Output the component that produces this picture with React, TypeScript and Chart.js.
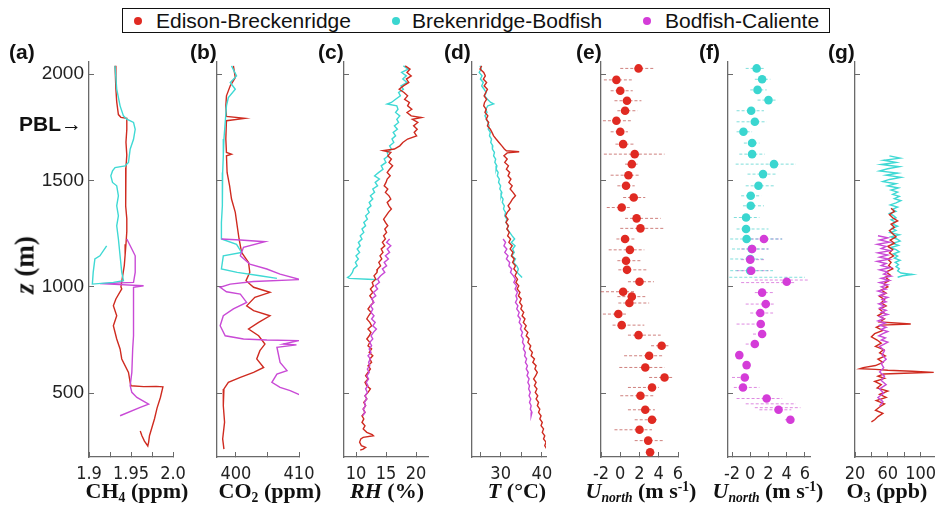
import React, { useEffect, useRef } from 'react';
import { Chart, registerables } from 'chart.js';

Chart.register(...registerables);

type P = [number, number]; // [altitude z (m), value]

// ---------------- Tick values and labels ----------------
const zTicks = [500, 1000, 1500, 2000];
const zLabels = ['500', '1000', '1500', '2000'];
const ch4Ticks = [1.9, 1.925, 1.95, 1.975, 2.0];
const ch4Labels = ['1.9', '', '1.95', '', '2.0'];
const co2Ticks = [400, 405, 410];
const co2Labels = ['400', '', '410'];
const rhTicks = [10, 15, 20];
const rhLabels = ['10', '15', '20'];
const tTicks = [25, 30, 35, 40];
const tLabels = ['', '30', '', '40'];
const uTicks = [-2, 0, 2, 4, 6];
const uLabels = ['-2', '0', '2', '4', '6'];
const o3Ticks = [20, 40, 60, 80, 100, 120];
const o3Labels = ['20', '', '60', '', '100', ''];

const seriesNames = ['Edison-Breckenridge', 'Brekenridge-Bodfish', 'Bodfish-Caliente'];

// ---------------- (a) CH4 ----------------
const ch4Edison: P[] = [[2040,1.931],[1990,1.932],[1930,1.932],[1870,1.933],[1810,1.935],[1797,1.938],[1792,1.945],[1740,1.945],[1680,1.944],[1620,1.945],[1560,1.944],[1500,1.943],[1440,1.944],[1380,1.944],[1320,1.945],[1260,1.945],[1200,1.944],[1150,1.943],[1100,1.942],[1050,1.940],[1000,1.938],[990,1.939],[943,1.932],[911,1.929],[864,1.933],[817,1.929],[755,1.933],[708,1.937],[661,1.939],[598,1.947],[551,1.949],[535,1.950],[531,1.965],[532,1.980],[530,1.988],[480,1.985],[430,1.981],[380,1.978],[340,1.975],[300,1.972],[270,1.971],[252,1.970],[275,1.966],[300,1.963],[322,1.961]];
const ch4Brek: P[] = [[2039,1.931],[1930,1.933],[1851,1.937],[1804,1.941],[1788,1.945],[1773,1.953],[1741,1.955],[1694,1.953],[1647,1.949],[1585,1.947],[1569,1.943],[1561,1.931],[1545,1.928],[1522,1.926],[1491,1.928],[1475,1.933],[1428,1.935],[1381,1.933],[1334,1.935],[1287,1.933],[1225,1.935],[1146,1.937],[1068,1.939],[1029,1.941],[1021,1.929],[1013,1.904],[1068,1.905],[1131,1.907],[1146,1.913],[1193,1.921]];
const ch4Bodfish: P[] = [[1225,1.945],[1178,1.951],[1146,1.955],[1068,1.955],[1021,1.953],[1015,1.913],[1005,1.965],[998,1.953],[911,1.953],[770,1.953],[708,1.952],[598,1.951],[535,1.949],[504,1.951],[480,1.957],[449,1.971],[433,1.961],[394,1.937]];

// ---------------- (b) CO2 ----------------
const co2Edison: P[] = [[2039,399.6],[1984,399.9],[1945,399.1],[1898,398.5],[1851,398.4],[1801,398.5],[1792,401.4],[1781,398.5],[1695,398.4],[1632,398.5],[1624,399.3],[1616,398.5],[1538,398.6],[1475,399.0],[1413,399.3],[1350,399.9],[1287,400.2],[1225,400.5],[1162,400.9],[1115,402.0],[1068,402.2],[1029,401.6],[998,402.8],[974,405.4],[951,403.0],[911,401.7],[888,402.8],[864,405.4],[833,403.6],[802,402.0],[770,403.6],[731,404.6],[700,403.8],[661,403.3],[621,404.4],[598,402.8],[574,400.7],[551,398.8],[520,398.1],[441,398.0],[364,398.2],[285,397.9],[237,398.1]];
const co2Brek: P[] = [[2039,399.3],[1992,400.1],[1961,399.1],[1929,399.9],[1890,398.8],[1851,398.5],[1773,398.3],[1695,398.1],[1616,398.0],[1538,397.9],[1460,397.9],[1381,397.8],[1303,397.7],[1225,397.7],[1200,400.1],[1162,400.9],[1146,398.0],[1084,397.7],[1068,400.2],[1052,403.8],[1040,406.5]];
const co2Bodfish: P[] = [[1225,397.7],[1220,400.7],[1212,404.6],[1186,401.2],[1146,400.7],[1107,402.2],[1084,404.9],[1060,407.0],[1034,410.2],[1025,402.8],[1013,399.1],[998,397.5],[977,398.5],[966,400.7],[927,401.7],[896,399.6],[864,398.0],[817,397.5],[770,398.3],[755,401.2],[750,404.9],[747,409.9],[731,407.5],[727,409.6],[716,406.5],[645,407.0],[606,408.1],[590,406.5],[551,405.7],[527,407.0],[512,408.6],[491,410.2]];

// ---------------- (c) RH ----------------
const rhEdison: P[] = [[2039,18.2],[2024,19.0],[2008,18.5],[1992,19.2],[1977,18.4],[1961,18.8],[1945,17.9],[1929,17.2],[1914,18.0],[1898,18.6],[1882,18.1],[1867,18.9],[1851,18.6],[1835,19.3],[1820,18.5],[1804,19.2],[1796,20.9],[1788,19.4],[1773,20.3],[1757,19.6],[1741,20.2],[1726,19.7],[1710,20.1],[1695,18.6],[1679,17.8],[1663,17.3],[1648,16.4],[1640,14.5],[1632,15.8],[1616,15.3],[1601,15.9],[1585,15.5],[1569,16.1],[1553,15.6],[1538,15.2],[1522,15.7],[1507,15.2],[1491,15.0],[1475,14.7],[1460,15.3],[1444,14.9],[1428,15.5],[1413,15.8],[1397,15.2],[1381,15.5],[1366,15.9],[1350,15.4],[1334,15.0],[1318,14.6],[1303,14.9],[1287,15.3],[1272,14.8],[1256,15.1],[1240,14.6],[1225,14.9],[1209,14.4],[1193,14.8],[1178,14.2],[1162,14.5],[1146,14.0],[1131,14.3],[1115,13.8],[1099,14.1],[1084,13.6],[1068,13.5],[1052,13.0],[1036,13.3],[1021,12.7],[1005,12.9],[990,12.4],[974,12.8],[958,12.3],[943,12.7],[927,12.9],[911,12.4],[896,12.0],[880,12.5],[864,12.1],[849,11.8],[833,12.3],[817,12.6],[802,12.0],[786,12.5],[770,12.2],[755,11.8],[739,12.3],[723,12.0],[708,12.6],[692,12.2],[676,12.8],[661,12.3],[645,12.6],[629,12.0],[614,12.4],[598,12.0],[582,11.6],[567,12.0],[551,11.5],[535,11.8],[520,12.4],[504,12.0],[488,11.5],[473,11.8],[457,11.3],[441,11.6],[425,11.2],[410,11.5],[394,11.0],[379,11.3],[363,11.0],[347,11.5],[332,11.2],[316,11.8],[305,12.7],[300,12.9],[292,11.2],[285,10.8],[270,10.6],[253,10.9],[245,11.6],[237,11.2],[232,10.7]];
const rhBrek: P[] = [[2039,17.9],[2024,18.7],[2008,17.6],[1992,18.4],[1977,17.8],[1961,18.5],[1945,17.5],[1929,17.9],[1914,17.1],[1898,17.4],[1882,16.6],[1867,15.9],[1860,15.2],[1851,16.8],[1835,17.0],[1820,16.6],[1804,17.3],[1788,16.8],[1773,17.1],[1757,16.4],[1741,16.9],[1726,16.2],[1710,16.6],[1695,16.0],[1679,16.3],[1663,15.6],[1648,15.9],[1632,15.2],[1616,15.4],[1601,14.7],[1585,15.0],[1569,14.2],[1553,14.5],[1538,13.8],[1522,13.1],[1507,13.9],[1491,13.2],[1475,13.6],[1460,12.8],[1444,13.1],[1428,12.4],[1413,12.8],[1397,12.2],[1381,12.5],[1366,11.9],[1350,12.2],[1334,11.6],[1318,11.9],[1303,11.3],[1287,11.6],[1272,11.0],[1256,11.3],[1240,10.7],[1225,11.0],[1209,10.4],[1193,10.7],[1178,10.2],[1162,10.6],[1146,10.0],[1131,10.4],[1115,9.9],[1099,10.2],[1084,9.6],[1068,9.4],[1052,9.0],[1044,8.6],[1040,8.9],[1036,12.0],[1034,13.5]];
const rhBodfish: P[] = [[1225,15.6],[1209,15.1],[1193,15.8],[1178,15.2],[1162,15.6],[1146,14.9],[1131,15.4],[1115,14.7],[1099,15.1],[1084,14.4],[1068,14.8],[1052,14.1],[1036,13.6],[1021,13.9],[1005,13.2],[990,13.6],[974,12.9],[958,13.3],[943,12.6],[927,13.0],[911,12.4],[896,12.8],[880,12.5],[864,13.0],[849,12.6],[833,13.2],[817,12.8],[802,13.4],[786,12.9],[770,12.5],[755,12.8],[739,12.3],[723,12.6],[708,12.2],[692,12.5],[676,12.0],[661,12.4],[645,12.1],[629,12.3],[614,11.9],[598,12.2],[582,11.8],[567,12.1],[551,11.7],[535,12.0],[520,11.6],[504,11.9],[488,11.5],[473,11.8],[457,11.4],[441,11.6],[425,11.2],[410,11.5],[394,11.1]];

// ---------------- (d) T ----------------
const tEdison: P[] = [[2039,25.4],[2024,25.0],[2008,25.9],[1992,26.3],[1977,25.8],[1961,26.6],[1945,26.0],[1929,26.8],[1914,26.4],[1898,26.0],[1882,26.6],[1867,26.1],[1851,25.9],[1835,26.5],[1820,26.2],[1804,26.9],[1788,26.5],[1773,27.1],[1757,26.8],[1741,27.5],[1726,27.9],[1710,28.3],[1695,28.9],[1679,29.6],[1663,30.3],[1648,30.9],[1640,31.4],[1635,34.5],[1630,31.6],[1616,30.8],[1601,31.6],[1585,31.0],[1569,31.9],[1553,31.4],[1538,32.2],[1522,31.8],[1507,32.5],[1491,32.0],[1475,32.8],[1460,32.3],[1444,33.0],[1428,33.6],[1413,32.9],[1397,32.4],[1381,31.8],[1366,32.3],[1350,31.6],[1334,31.2],[1318,31.8],[1303,31.3],[1287,31.9],[1272,31.5],[1256,32.1],[1240,31.7],[1225,32.4],[1209,32.0],[1193,32.8],[1178,32.3],[1162,33.0],[1146,32.6],[1131,33.3],[1115,32.9],[1099,33.6],[1084,33.2],[1068,33.9],[1052,33.5],[1036,34.1],[1021,33.7],[1005,34.4],[990,34.0],[974,34.7],[958,34.3],[943,35.0],[927,34.6],[911,35.2],[896,34.9],[880,35.6],[864,35.2],[849,35.9],[833,35.5],[817,36.2],[802,35.8],[786,36.6],[770,36.2],[755,36.9],[739,36.6],[723,37.3],[708,37.0],[692,37.7],[676,37.4],[661,38.2],[645,37.8],[629,38.6],[614,38.3],[598,38.9],[582,38.5],[567,38.0],[551,38.6],[535,38.2],[520,38.8],[504,38.4],[488,39.0],[473,38.6],[457,39.2],[441,38.9],[425,39.5],[410,39.2],[394,39.8],[379,39.5],[363,40.1],[347,39.8],[332,40.4],[316,40.1],[300,40.7],[285,40.4],[270,41.0],[253,40.7],[237,41.2]];
const tBrek: P[] = [[2039,25.0],[2024,25.3],[2008,24.8],[1992,25.5],[1977,25.1],[1961,25.8],[1945,25.4],[1929,26.0],[1914,26.5],[1898,26.1],[1882,26.8],[1867,27.6],[1860,28.3],[1851,26.9],[1835,26.4],[1820,26.7],[1804,26.2],[1788,26.6],[1773,26.9],[1757,27.2],[1741,27.0],[1726,27.5],[1710,27.3],[1695,27.8],[1679,27.6],[1663,28.1],[1648,28.0],[1632,28.5],[1616,28.3],[1601,28.8],[1585,28.6],[1569,29.1],[1553,28.9],[1538,29.4],[1522,29.2],[1507,29.7],[1491,29.5],[1475,30.0],[1460,29.8],[1444,30.3],[1428,30.1],[1413,30.6],[1397,30.4],[1381,30.9],[1366,30.7],[1350,31.2],[1334,31.0],[1318,31.5],[1303,31.3],[1287,31.8],[1272,31.6],[1256,32.2],[1240,32.8],[1225,33.4],[1209,32.6],[1193,33.5],[1178,32.9],[1162,33.3],[1146,32.7],[1131,33.6],[1115,33.1],[1099,33.9],[1084,34.3],[1068,34.0],[1052,34.8],[1044,35.2]];
const tBodfish: P[] = [[1225,30.6],[1209,31.2],[1193,30.8],[1178,31.5],[1162,31.0],[1146,31.8],[1131,31.4],[1115,32.2],[1099,32.0],[1084,32.7],[1068,32.4],[1052,33.1],[1036,33.6],[1021,33.2],[1005,33.9],[990,33.5],[974,34.1],[958,33.7],[943,34.0],[927,33.6],[911,34.2],[896,33.9],[880,34.5],[864,34.2],[849,34.8],[833,34.5],[817,35.1],[802,34.8],[786,35.3],[770,35.0],[755,35.5],[739,35.3],[723,35.8],[708,35.5],[692,36.0],[676,35.8],[661,36.3],[645,36.0],[629,36.5],[614,36.2],[598,36.7],[582,36.4],[567,36.9],[551,36.6],[535,37.0],[520,36.8],[504,37.2],[488,36.9],[473,37.3],[457,37.0],[441,37.4],[425,37.2],[410,37.6],[394,37.4]];

// ---------------- (e) U north, Edison-Breckenridge ----------------
const eDotZ = [2027,1973,1922,1875,1828,1781,1729,1671,1624,1577,1525,1475,1420,1373,1322,1275,1225,1174,1123,1080,1024,977,954,924,872,820,773,723,676,621,574,527,488,422,375,328,277,222];
const eDotU = [1.9,-0.4,0.0,0.7,0.5,-0.4,0.0,0.3,1.5,1.2,0.85,0.6,1.4,0.15,1.7,2.1,0.5,1.0,0.6,0.7,2.0,0.3,1.2,0.95,-0.2,0.15,1.9,4.3,3.0,2.6,4.6,3.3,2.1,2.6,3.3,2.0,2.9,3.1];
const eSpreadLo = [0.0,-1.7,-1.0,-0.6,-0.3,-1.8,-1.0,-0.5,-1.7,0.5,-1.0,-0.3,0.3,-1.4,0.5,0.0,-0.4,-1.2,-0.3,-0.2,0.8,-2.0,-0.3,-0.2,-1.8,-0.8,0.8,3.2,0.4,-0.1,3.0,0.8,0.0,0.8,1.5,-0.6,1.5,3.1];
const eSpreadHi = [3.6,1.2,1.3,2.2,1.8,1.1,0.8,1.5,4.6,1.8,2.0,1.5,2.6,1.0,4.2,4.6,1.6,2.5,2.1,2.8,3.5,1.5,2.6,3.0,0.8,2.5,4.2,5.0,4.5,4.6,5.5,4.0,3.6,3.6,3.8,3.3,4.6,3.1];

// ---------------- (f) U north, Brekenridge-Bodfish & Bodfish-Caliente ----------------
const fCyanZ = [2027,1976,1926,1878,1828,1776,1729,1676,1624,1577,1530,1475,1428,1381,1326,1272,1225,1178,1131,1076];
const fCyanU = [0.7,1.3,0.8,2.0,0.1,0.5,-0.75,0.2,0.2,2.6,1.4,0.9,0.05,0.05,-0.46,-0.46,-0.4,0.16,0.0,0.0];
const fCyanSpreadZ = [2027,1976,1926,1878,1828,1776,1729,1676,1624,1577,1530,1475,1428,1381,1326,1272,1225,1178,1131,1076,1045];
const fCyanSpreadLo = [-0.5,0.5,0.0,0.8,-1.5,-1.5,-1.5,-0.7,-1.2,-1.6,-0.3,-0.5,-1.0,-0.8,-1.8,-1.5,-2.2,-2.0,-2.2,-2.2,-2.3];
const fCyanSpreadHi = [1.5,2.2,1.8,3.0,1.5,1.8,0.2,1.0,1.6,5.0,2.8,2.6,1.2,1.5,1.0,2.0,3.5,2.0,1.5,2.5,6.0];
const fMagZ = [1225,1178,1128,1076,1024,973,919,877,825,778,731,679,632,574,527,475,422,375];
const fMagU = [1.5,0.2,0.0,0.1,4.0,1.3,1.7,1.1,1.15,1.3,0.5,-1.2,-0.4,-0.6,-0.8,1.8,3.1,4.4];
const fMagSpreadZ = [1225,1178,1128,1076,1032,1020,973,919,877,825,778,731,574,527,475,450,432,422,375];
const fMagSpreadLo = [-0.5,-1.0,-1.0,-1.5,0.5,-1.0,0.5,-0.5,0.0,-1.5,0.3,-0.5,-2.0,-1.8,-1.5,-0.5,0.5,1.0,3.8];
const fMagSpreadHi = [3.5,2.0,1.5,2.0,6.3,5.0,2.5,2.6,2.5,1.5,1.8,1.0,-0.3,1.0,3.5,5.0,5.5,4.5,4.8];

// ---------------- (g) O3 ----------------
const o3Edison: P[] = [[1370,64],[1355,68],[1340,62],[1325,66],[1310,72],[1295,64],[1280,68],[1265,62],[1250,66],[1235,70],[1220,63],[1205,68],[1190,60],[1175,66],[1160,62],[1145,67],[1130,60],[1115,64],[1100,61],[1085,66],[1070,58],[1055,63],[1045,57],[1030,62],[1015,55],[1000,60],[985,52],[970,58],[955,50],[940,56],[925,52],[910,58],[895,50],[880,55],[865,48],[850,56],[835,50],[825,88],[820,52],[810,46],[795,54],[780,44],[765,40],[750,47],[735,52],[720,45],[705,55],[690,50],[675,57],[660,48],[645,54],[630,45],[620,30],[615,26],[612,45],[608,60],[603,90],[598,116],[594,80],[590,55],[580,48],[570,56],[555,44],[540,52],[525,47],[510,60],[495,50],[480,58],[465,46],[450,56],[435,50],[420,45],[405,54],[390,48],[375,44],[365,40]];
const o3Brek: P[] = [[1616,62],[1605,75],[1595,55],[1585,70],[1575,52],[1565,74],[1555,60],[1545,50],[1535,72],[1525,58],[1515,76],[1505,62],[1495,54],[1485,70],[1475,60],[1465,73],[1455,64],[1445,72],[1435,66],[1425,74],[1415,68],[1405,76],[1395,70],[1385,63],[1375,72],[1365,66],[1355,70],[1345,62],[1335,67],[1325,70],[1315,64],[1305,69],[1295,66],[1285,72],[1275,65],[1265,70],[1255,63],[1245,74],[1235,64],[1225,71],[1215,75],[1205,66],[1195,73],[1185,63],[1175,70],[1165,74],[1155,67],[1145,72],[1135,68],[1125,75],[1115,69],[1105,73],[1095,70],[1085,74],[1075,72],[1065,76],[1058,90],[1052,78],[1045,72]];
const o3Bodfish: P[] = [[1240,48],[1230,60],[1220,50],[1210,62],[1200,47],[1190,58],[1180,52],[1170,63],[1160,48],[1150,60],[1140,50],[1130,62],[1120,47],[1110,58],[1100,52],[1090,63],[1080,50],[1070,60],[1060,55],[1050,64],[1040,52],[1030,62],[1020,50],[1010,60],[1000,52],[990,58],[980,48],[970,57],[960,50],[950,60],[940,53],[930,58],[920,49],[910,56],[900,50],[890,58],[880,52],[870,60],[860,50],[850,55],[840,48],[830,57],[820,50],[810,58],[800,52],[790,60],[780,54],[770,49],[760,57],[750,52],[740,60],[730,55],[720,50],[700,56],[680,53],[660,58],[640,52],[620,55],[600,50],[580,56],[560,52],[540,58],[520,50],[500,55],[480,48],[460,54],[440,50]];

// ---------------- styling / layout ----------------
const RED = '#cf2b20';
const CYAN = '#3fd9d4';
const MAG = '#c94ad6';
const RED_DOT = '#e02a22';
const CYAN_DOT = '#3ad6d0';
const MAG_DOT = '#d43cd8';
const AXIS = '#6a6a6a';
const SANS = "'Liberation Sans', Arial, sans-serif";
const NARROW = "'Liberation Sans Narrow', 'DejaVu Sans Condensed', 'Liberation Sans', sans-serif";
const SERIF = "'Liberation Serif', 'Times New Roman', serif";

const Z_MIN = 200;
const Z_MAX = 2060;
const CANVAS_TOP = 50;
const PAD_TOP = 11.4;
const X_AXIS_H = 30;
const CANVAS_H = 437;
const RIGHT_PAD = 20;

const xy = (arr: P[]) => arr.map(([z, v]) => ({ x: v, y: z }));
const dots = (z: number[], u: number[]) => z.map((zz, i) => ({ x: u[i], y: zz }));
const spreads = (z: number[], lo: number[], hi: number[]) => {
  const out: any[] = [];
  z.forEach((zz, i) => {
    out.push({ x: lo[i], y: zz }, { x: hi[i], y: zz }, { x: null, y: null });
  });
  return out;
};

const lineDs = (label: string, data: any[], color: string) => ({
  label, data, showLine: true, borderColor: color, backgroundColor: color,
  borderWidth: 1.4, pointRadius: 0, tension: 0, fill: false, order: 1,
});
const dotDs = (label: string, data: any[], color: string) => ({
  label, data, showLine: false, borderColor: color, backgroundColor: color,
  pointRadius: 4.3, pointBorderWidth: 0, order: 0,
});
const spreadDs = (label: string, data: any[], color: string) => ({
  label, data, showLine: true, borderColor: color, backgroundColor: color,
  borderWidth: 1, borderDash: [3, 2], pointRadius: 0, spanGaps: false, order: 2,
});

interface PanelCfg {
  key: string; axisX: number; endX: number; leftW: number;
  min: number; max: number; ticks: number[]; labels: string[];
  yLabels: boolean; datasets: any[];
}

const panels: PanelCfg[] = [
  { key: 'a', axisX: 89, endX: 173, leftW: 89, min: 1.9, max: 2.0, ticks: ch4Ticks, labels: ch4Labels, yLabels: true,
    datasets: [lineDs(seriesNames[1], xy(ch4Brek), CYAN), lineDs(seriesNames[2], xy(ch4Bodfish), MAG), lineDs(seriesNames[0], xy(ch4Edison), RED)] },
  { key: 'b', axisX: 217, endX: 299, leftW: 14, min: 397, max: 410, ticks: co2Ticks, labels: co2Labels, yLabels: false,
    datasets: [lineDs(seriesNames[2], xy(co2Bodfish), MAG), lineDs(seriesNames[1], xy(co2Brek), CYAN), lineDs(seriesNames[0], xy(co2Edison), RED)] },
  { key: 'c', axisX: 344, endX: 428, leftW: 14, min: 8, max: 22, ticks: rhTicks, labels: rhLabels, yLabels: false,
    datasets: [lineDs(seriesNames[2], xy(rhBodfish), MAG), lineDs(seriesNames[0], xy(rhEdison), RED), lineDs(seriesNames[1], xy(rhBrek), CYAN)] },
  { key: 'd', axisX: 472, endX: 546, leftW: 14, min: 23.06, max: 41.0, ticks: tTicks, labels: tLabels, yLabels: false,
    datasets: [lineDs(seriesNames[2], xy(tBodfish), MAG), lineDs(seriesNames[0], xy(tEdison), RED), lineDs(seriesNames[1], xy(tBrek), CYAN)] },
  { key: 'e', axisX: 601, endX: 678, leftW: 14, min: -2, max: 6, ticks: uTicks, labels: uLabels, yLabels: false,
    datasets: [dotDs(seriesNames[0], dots(eDotZ, eDotU), RED_DOT), spreadDs('spread', spreads(eDotZ, eSpreadLo, eSpreadHi), 'rgba(175,45,40,0.6)')] },
  { key: 'f', axisX: 728, endX: 810, leftW: 14, min: -2.44, max: 6.55, ticks: uTicks, labels: uLabels, yLabels: false,
    datasets: [dotDs(seriesNames[2], dots(fMagZ, fMagU), MAG_DOT), dotDs(seriesNames[1], dots(fCyanZ, fCyanU), CYAN_DOT),
      spreadDs('spread1', spreads(fCyanSpreadZ, fCyanSpreadLo, fCyanSpreadHi), 'rgba(60,205,200,0.65)'),
      spreadDs('spread2', spreads(fMagSpreadZ, fMagSpreadLo, fMagSpreadHi), 'rgba(200,60,205,0.6)')] },
  { key: 'g', axisX: 855, endX: 937, leftW: 14, min: 20, max: 120, ticks: o3Ticks, labels: o3Labels, yLabels: false,
    datasets: [lineDs(seriesNames[2], xy(o3Bodfish), MAG), lineDs(seriesNames[0], xy(o3Edison), RED), lineDs(seriesNames[1], xy(o3Brek), CYAN)] },
];

function PanelChart({ cfg }: { cfg: PanelCfg }) {
  const ref = useRef<HTMLCanvasElement>(null);
  const width = cfg.leftW + (cfg.endX - cfg.axisX) + RIGHT_PAD;
  useEffect(() => {
    if (!ref.current) return;
    const chart = new Chart(ref.current, {
      type: 'scatter',
      data: { datasets: cfg.datasets },
      options: {
        animation: false,
        responsive: false,
        maintainAspectRatio: false,
        devicePixelRatio: 1,
        layout: { padding: { left: 0, right: RIGHT_PAD, top: PAD_TOP, bottom: 0 } },
        plugins: { legend: { display: false }, tooltip: { enabled: false } },
        scales: {
          x: {
            type: 'linear', position: 'bottom', min: cfg.min, max: cfg.max,
            afterBuildTicks: (s: any) => { s.ticks = cfg.ticks.map((v) => ({ value: v })); },
            afterFit: (s: any) => { s.height = X_AXIS_H; s.paddingLeft = 0; s.paddingRight = 0; },
            grid: { drawOnChartArea: false, drawTicks: true, tickLength: -5, color: AXIS, lineWidth: 1 },
            border: { display: true, color: AXIS, width: 1.3 },
            ticks: {
              autoSkip: false, maxRotation: 0, minRotation: 0, padding: 12, color: '#222',
              font: { family: NARROW, size: 18 },
              callback: (v: any) => { const i = cfg.ticks.findIndex((t) => Math.abs(t - v) < 1e-9); return i >= 0 ? cfg.labels[i] : ''; },
            },
          },
          y: {
            type: 'linear', position: 'left', min: Z_MIN, max: Z_MAX,
            afterBuildTicks: (s: any) => { s.ticks = zTicks.map((v) => ({ value: v })); },
            afterFit: (s: any) => { s.width = cfg.leftW; s.paddingTop = 0; s.paddingBottom = 0; },
            grid: { drawOnChartArea: false, drawTicks: true, tickLength: -5, color: AXIS, lineWidth: 1 },
            border: { display: true, color: AXIS, width: 1.3 },
            ticks: {
              display: cfg.yLabels, autoSkip: false, padding: 10, color: '#222',
              font: { family: SANS, size: 19 },
              callback: (v: any) => { const i = zTicks.indexOf(v); return i >= 0 ? zLabels[i] : ''; },
            },
          },
        },
      } as any,
    });
    return () => chart.destroy();
  }, [cfg]);
  return (
    <canvas ref={ref} width={width} height={CANVAS_H}
      style={{ position: 'absolute', left: cfg.axisX - cfg.leftW, top: CANVAS_TOP, width, height: CANVAS_H }} />
  );
}

const abs = (left: number, top: number, extra: React.CSSProperties = {}): React.CSSProperties => ({
  position: 'absolute', left, top, whiteSpace: 'nowrap', ...extra,
});

const panelLetters: [string, number][] = [['(a)', 9], ['(b)', 190], ['(c)', 318], ['(d)', 444], ['(e)', 576], ['(f)', 699], ['(g)', 828]];

const titleStyle = (cx: number): React.CSSProperties => ({
  position: 'absolute', left: cx, top: 480, transform: 'translateX(-50%)', whiteSpace: 'nowrap',
  fontFamily: SERIF, fontWeight: 'bold', fontSize: 22, lineHeight: '22px', color: '#111',
});
const subS: React.CSSProperties = { fontSize: '0.62em', position: 'relative', top: '0.32em' };
const supS: React.CSSProperties = { fontSize: '0.62em', position: 'relative', top: '-0.5em' };

export default function App() {
  const legendItems: [string, string, number, number][] = [
    [seriesNames[0], RED_DOT, 138, 156],
    [seriesNames[1], CYAN_DOT, 396, 412],
    [seriesNames[2], MAG_DOT, 647, 665],
  ];
  return (
    <div style={{ position: 'fixed', left: 0, top: 0, width: 935, height: 510, overflow: 'hidden', background: '#fff', color: '#111' }}>
      {panels.map((p) => <PanelChart key={p.key} cfg={p} />)}

      {/* legend */}
      <div style={{ position: 'absolute', left: 122, top: 8, width: 708, height: 25, border: '1.5px solid #111', boxSizing: 'border-box' }} />
      {legendItems.map(([name, color, dx, tx]) => (
        <React.Fragment key={name}>
          <div style={{ position: 'absolute', left: dx - 4, top: 17, width: 8, height: 8, borderRadius: 4, background: color }} />
          <div style={abs(tx, 10, { fontFamily: SANS, fontSize: 21, lineHeight: '21px', color: '#111' })}>{name}</div>
        </React.Fragment>
      ))}

      {/* panel letters */}
      {panelLetters.map(([t, x]) => (
        <div key={t} style={abs(x, 41, { fontFamily: SANS, fontWeight: 'bold', fontSize: 21, lineHeight: '21px' })}>{t}</div>
      ))}

      {/* PBL marker */}
      <div style={abs(19, 113, { fontFamily: SANS, fontWeight: 'bold', fontSize: 21, lineHeight: '21px' })}>PBL→</div>

      {/* y title */}
      <div style={{ position: 'absolute', left: 25, top: 265, transform: 'translate(-50%,-50%) rotate(-90deg)', whiteSpace: 'nowrap',
        fontFamily: SERIF, fontWeight: 'bold', fontSize: 27, lineHeight: '27px' }}>
        <i>z</i> (m)
      </div>

      {/* x titles */}
      <div style={titleStyle(137)}>CH<span style={subS}>4</span> (ppm)</div>
      <div style={titleStyle(270)}>CO<span style={subS}>2</span> (ppm)</div>
      <div style={titleStyle(387)}><i>RH</i> (%)</div>
      <div style={titleStyle(517)}><i>T</i> (°C)</div>
      <div style={titleStyle(641)}><i>U</i><span style={subS}><i>north</i></span> (m s<span style={supS}>-1</span>)</div>
      <div style={titleStyle(768)}><i>U</i><span style={subS}><i>north</i></span> (m s<span style={supS}>-1</span>)</div>
      <div style={titleStyle(887)}>O<span style={subS}>3</span> (ppb)</div>
    </div>
  );
}
